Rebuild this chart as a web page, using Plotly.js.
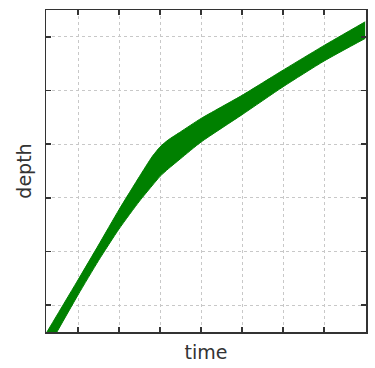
<!DOCTYPE html>
<html>
<head>
<meta charset="utf-8">
<script src="https://cdn.plot.ly/plotly-3.0.1.min.js"></script>
<style>html,body{margin:0;padding:0;background:#fff;}#chart{width:375px;height:368px;}</style>
</head>
<body>
<div id="chart"></div>
<script>
const time = [0.22, 1, 1.5, 2, 2.5, 2.8, 3, 3.2, 3.5, 4, 5, 6, 7, 8];
const depthUpper = [-0.53, 0.47, 1.12, 1.78, 2.40, 2.76, 2.95, 3.08, 3.23, 3.48, 3.91, 4.38, 4.84, 5.28];
const depthLower = [-0.86, 0.19, 0.83, 1.42, 1.94, 2.22, 2.40, 2.54, 2.73, 3.04, 3.55, 4.07, 4.55, 4.97];

const green = '#008000';
const traces = [
  {x: time, y: depthLower, type: 'scatter', mode: 'lines', line: {color: green, width: 1, shape: 'spline', smoothing: 0.6}, hoverinfo: 'skip', showlegend: false},
  {x: time, y: depthUpper, type: 'scatter', mode: 'lines', fill: 'tonexty', fillcolor: green, line: {color: green, width: 1, shape: 'spline', smoothing: 0.4}, hoverinfo: 'skip', showlegend: false}
];

const axisCommon = {
  showticklabels: false,
  ticks: 'inside', ticklen: 5, tickwidth: 1.5, tickcolor: '#333',
  showline: true, linecolor: '#333', linewidth: 1.5, mirror: 'ticks',
  showgrid: true, gridcolor: '#c8c8c8', gridwidth: 1, griddash: 'dot',
  zeroline: false, dtick: 1, tick0: 0
};

const layout = {
  width: 375, height: 368,
  margin: {l: 46, r: 9, t: 10, b: 36},
  paper_bgcolor: '#fff', plot_bgcolor: '#fff',
  font: {family: 'DejaVu Sans', color: '#333'},
  xaxis: Object.assign({}, axisCommon, {range: [0.22, 8.02], title: {text: 'time', font: {size: 19, color: '#333'}, standoff: 13}}),
  yaxis: Object.assign({}, axisCommon, {range: [-0.5, 5.5], title: {text: 'depth', font: {size: 19, color: '#333'}, standoff: 8}})
};

Plotly.newPlot('chart', traces, layout, {staticPlot: true, displayModeBar: false});
</script>
</body>
</html>
